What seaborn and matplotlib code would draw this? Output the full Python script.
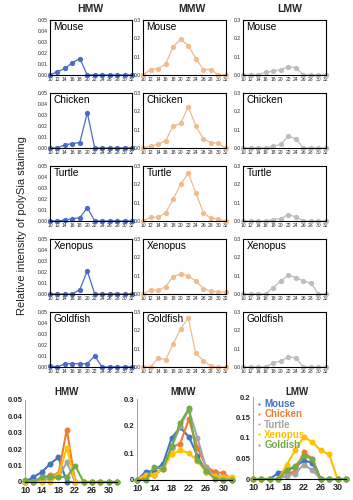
import numpy as np
import pandas as pd
import matplotlib
matplotlib.use("Agg")
import matplotlib.pyplot as plt
import seaborn as sns

sns.set_style("white")
plt.rcParams["font.family"] = ["Liberation Sans", "DejaVu Sans"]

# fractions (x axis)
fractions = [10, 12, 14, 16, 18, 20, 22, 24, 26, 28, 30, 32]
species = ["Mouse", "Chicken", "Turtle", "Xenopus", "Goldfish"]
legend_labels = ["Mouse", "Chicken", "Turtle", "Xenopus", "Goldish"]
groups = ["HMW", "MMW", "LMW"]

hmw = {
    "Mouse":    [0, 0.003, 0.006, 0.011, 0.015, 0, 0, 0, 0, 0, 0, 0],
    "Chicken":  [0, 0, 0.003, 0.004, 0.005, 0.032, 0, 0, 0, 0, 0, 0],
    "Turtle":   [0, 0, 0.001, 0.002, 0.003, 0.012, 0, 0, 0, 0, 0, 0],
    "Xenopus":  [0, 0, 0, 0, 0.004, 0.021, 0, 0, 0, 0, 0, 0],
    "Goldfish": [0.001, 0, 0.003, 0.003, 0.003, 0.003, 0.010, 0, 0, 0, 0, 0],
}
mmw = {
    "Mouse":    [0, 0.03, 0.035, 0.06, 0.155, 0.195, 0.16, 0.09, 0.03, 0.03, 0, 0],
    "Chicken":  [0, 0.01, 0.02, 0.04, 0.12, 0.135, 0.225, 0.12, 0.05, 0.03, 0.025, 0],
    "Turtle":   [0, 0.02, 0.02, 0.045, 0.12, 0.2, 0.26, 0.155, 0.045, 0.015, 0.01, 0],
    "Xenopus":  [0, 0.02, 0.02, 0.04, 0.095, 0.11, 0.1, 0.07, 0.03, 0.015, 0.01, 0.01],
    "Goldfish": [0, 0, 0.05, 0.04, 0.125, 0.21, 0.265, 0.075, 0.035, 0.005, 0, 0],
}
lmw = {
    "Mouse":    [0, 0, 0, 0.015, 0.02, 0.03, 0.045, 0.04, 0, 0, 0, 0],
    "Chicken":  [0, 0, 0, 0, 0.01, 0.02, 0.065, 0.05, 0, 0, 0, 0],
    "Turtle":   [0, 0, 0, 0, 0.008, 0.013, 0.035, 0.022, 0, 0, 0, 0],
    "Xenopus":  [0, 0, 0, 0, 0.035, 0.07, 0.103, 0.09, 0.07, 0.06, 0, 0],
    "Goldfish": [0, 0, 0, 0, 0.022, 0.032, 0.055, 0.05, 0, 0, 0, 0],
}
data = {"HMW": hmw, "MMW": mmw, "LMW": lmw}

panel_colors = {"HMW": "#4a6cc6", "MMW": "#efbc8e", "LMW": "#bdbdbd"}
species_colors = ["#4472c4", "#ed7d31", "#a5a5a5", "#ffc000", "#70ad47"]

W, H = 353, 500
fig = plt.figure(figsize=(W / 100, H / 100), dpi=100)


def box(l, t, r, b):
    return [l / W, 1 - b / H, (r - l) / W, (b - t) / H]


# ---- small panels
cols = {"HMW": (50, 132), "MMW": (143, 226), "LMW": (243, 326)}
row_tops = [20, 93, 166, 239, 312]
for g in groups:
    l, r = cols[g]
    for i, sp in enumerate(species):
        t = row_tops[i]
        ax = fig.add_axes(box(l, t, r, t + 55))
        df = pd.DataFrame({"fraction": fractions, "value": data[g][sp]})
        sns.lineplot(data=df, x="fraction", y="value", ax=ax, color=panel_colors[g],
                     marker="o", markersize=3.8, markeredgewidth=0, linewidth=0.9,
                     clip_on=False)
        ax.set_xlim(10, 32)
        if g == "HMW":
            ax.set_ylim(0, 0.05)
            ax.set_yticks([0, 0.01, 0.02, 0.03, 0.04, 0.05])
            ax.set_yticklabels([f"{v:.2f}" for v in ax.get_yticks()])
        else:
            ax.set_ylim(0, 0.3)
            ax.set_yticks([0, 0.1, 0.2, 0.3])
            ax.set_yticklabels([f"{v:.1f}" for v in ax.get_yticks()])
        ax.set_xticks(fractions)
        ax.set_xticklabels([str(f) for f in fractions])
        ax.tick_params(labelsize=3.6, length=0, pad=1.5)
        ax.set_xlabel("")
        ax.set_ylabel("")
        for s in ax.spines.values():
            s.set_color("black")
            s.set_linewidth(0.8)
        ax.text(0.04, 0.97, sp, transform=ax.transAxes, ha="left", va="top",
                fontsize=7.3, color="black")

fig.text(90 / W, 1 - 9 / H, "HMW", ha="center", va="center", fontsize=7.5, fontweight="bold")
fig.text(192 / W, 1 - 9 / H, "MMW", ha="center", va="center", fontsize=7.5, fontweight="bold")
fig.text(290 / W, 1 - 9 / H, "LMW", ha="center", va="center", fontsize=7.5, fontweight="bold")
fig.text(22 / W, 1 - 226 / H, "Relative intensity of polySia staining", rotation=90,
         ha="center", va="center", fontsize=8)

# ---- combined panels
big = {"HMW": (25, 400, 117, 482), "MMW": (137, 399, 232, 480), "LMW": (253, 397, 346, 479)}
big_ylim = {"HMW": (0.05, [0, 0.01, 0.02, 0.03, 0.04, 0.05], ["0", "0.01", "0.02", "0.03", "0.04", "0.05"]),
            "MMW": (0.3, [0, 0.1, 0.2, 0.3], ["0", "0.1", "0.2", "0.3"]),
            "LMW": (0.2, [0, 0.05, 0.1, 0.15, 0.2], ["0", "0.05", "0.1", "0.15", "0.2"])}
title_x = {"HMW": 67, "MMW": 183, "LMW": 297}
for g in groups:
    ax = fig.add_axes(box(*big[g]))
    rows = []
    for sp in species:
        for f, v in zip(fractions, data[g][sp]):
            rows.append({"fraction": f, "value": v, "species": sp})
    df = pd.DataFrame(rows)
    sns.lineplot(data=df, x="fraction", y="value", hue="species", palette=species_colors,
                 marker="o", markersize=4.3, markeredgewidth=0, linewidth=1.5,
                 clip_on=False, ax=ax, legend=(g == "LMW"))
    top, yt, yl = big_ylim[g]
    ax.set_xlim(10, 32)
    ax.set_ylim(0, top)
    ax.set_yticks(yt)
    ax.set_yticklabels(yl)
    ax.set_xticks([10, 14, 18, 22, 26, 30])
    ax.set_xticklabels(["10", "14", "18", "22", "26", "30"])
    ax.tick_params(axis="x", labelsize=6.5, length=0, pad=3)
    ax.tick_params(axis="y", labelsize=5.5, length=0, pad=2)
    for lab in ax.get_xticklabels() + ax.get_yticklabels():
        lab.set_fontweight("bold")
    ax.set_xlabel("")
    ax.set_ylabel("")
    ax.spines["top"].set_visible(False)
    ax.spines["right"].set_visible(False)
    ax.spines["left"].set_color("#909090")
    ax.spines["left"].set_linewidth(0.6)
    ax.spines["bottom"].set_color("black")
    ax.spines["bottom"].set_linewidth(0.8)
    fig.text(title_x[g] / W, 1 - 392 / H, g, ha="center", va="center",
             fontsize=7, fontweight="bold")
    if g == "LMW":
        handles, _ = ax.get_legend_handles_labels()
        leg = ax.legend(handles, legend_labels, loc="upper left", bbox_to_anchor=(0.0, 1.02),
                        frameon=False, handlelength=0.4, handletextpad=0.35,
                        labelspacing=0.02, borderaxespad=0, markerscale=0.35,
                        prop={"size": 7, "weight": "bold"}, labelcolor="linecolor")
        for h in leg.legend_handles:
            h.set_linewidth(0)

fig.savefig("out.png", dpi=100)
